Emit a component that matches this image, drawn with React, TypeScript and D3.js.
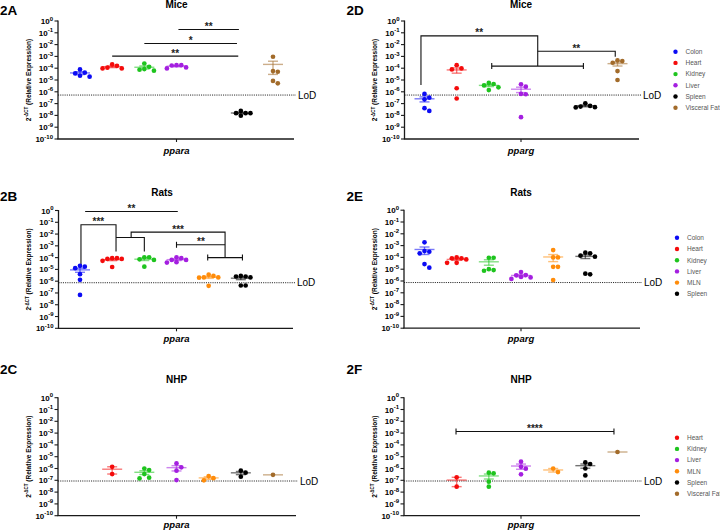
import React from "react";
import * as d3 from "d3";

const TISSUES = ["Colon", "Heart", "Kidney", "Liver", "MLN", "Spleen", "Visceral Fat"];
const TISSUE_COLORS = ["#0b0bf4", "#f40b0b", "#1ec41e", "#a41fe0", "#ff8c0a", "#000000", "#a26b2a"];
const Y_EXPONENTS = [0, -1, -2, -3, -4, -5, -6, -7, -8, -9, -10];

type Series = { tissue: string; values: number[] };
type Bracket = { path: [number, number][]; caps?: number[]; text?: string; tx?: number; ty?: number };

// 2A  Mice, ppara
const miceAlpha: Series[] = [
  { tissue: "Colon", values: [7.9e-5, 4.2e-5, 3.6e-5, 2.3e-5, 1.9e-5] },
  { tissue: "Heart", values: [2.1e-4, 1.6e-4, 1.1e-4, 9.6e-5, 9.6e-5] },
  { tissue: "Kidney", values: [2.5e-4, 1.3e-4, 8.5e-5, 7.4e-5, 6.2e-5] },
  { tissue: "Liver", values: [1.8e-4, 1.8e-4, 1.7e-4, 1.17e-4, 9.6e-5] },
  { tissue: "Spleen", values: [2.4e-8, 1.55e-8, 1.55e-8, 1.55e-8, 9.3e-9] },
  { tissue: "Visceral Fat", values: [9.3e-4, 5.7e-5, 5e-5, 8.3e-6, 5.2e-6] },
];
const miceAlphaBrackets: Bracket[] = [
  { path: [[3.06, 0.19], [4.94, 0.19]], text: "**", tx: 4.0, ty: 0.19 },
  { path: [[2.0, 0.0123], [4.88, 0.0123]], text: "*", tx: 3.44, ty: 0.0123 },
  { path: [[1.0, 1.05e-3], [4.92, 1.05e-3]], text: "**", tx: 2.96, ty: 1.05e-3 },
];

// 2D  Mice, pparg
const miceGamma: Series[] = [
  { tissue: "Colon", values: [6.6e-7, 3.2e-7, 2.3e-7, 4.1e-8, 2.4e-8] },
  { tissue: "Heart", values: [1.8e-4, 9.6e-5, 7.9e-5, 2e-6, 2.7e-7] },
  { tissue: "Kidney", values: [5.6e-6, 4.6e-6, 3.5e-6, 2.4e-6, 1.4e-6] },
  { tissue: "Liver", values: [4.3e-6, 2.7e-6, 6.6e-7, 6.2e-7, 7.1e-9] },
  { tissue: "Spleen", values: [1.07e-7, 6.4e-8, 5.6e-8, 5e-8, 4.7e-8] },
  { tissue: "Visceral Fat", values: [4.6e-4, 4e-4, 2.9e-4, 5.7e-5, 1e-5] },
];
const miceGammaBrackets: Bracket[] = [
  { path: [[-0.11, 3.8e-6], [-0.11, 0.055], [3.52, 0.055], [3.52, 1.5e-4]], text: "**", tx: 1.7, ty: 0.055 },
  { path: [[2.09, 1.5e-4], [4.94, 1.5e-4]], caps: [0, 1] },
  { path: [[3.52, 2.75e-3], [5.93, 2.75e-3], [5.93, 9.3e-4]], text: "**", tx: 4.72, ty: 2.75e-3 },
];

// 2B  Rats, ppara
const ratsAlpha: Series[] = [
  { tissue: "Colon", values: [2e-5, 1.7e-5, 1.26e-5, 3.9e-6, 1.3e-6, 6.8e-8] },
  { tissue: "Heart", values: [8.9e-5, 8.9e-5, 7.8e-5, 7.8e-5, 5.3e-5, 1.6e-5] },
  { tissue: "Kidney", values: [1.07e-4, 1.07e-4, 7.2e-5, 6.4e-5, 1.7e-5] },
  { tissue: "Liver", values: [1.07e-4, 8.9e-5, 6.4e-5, 6.4e-5, 4.1e-5, 3.8e-5] },
  { tissue: "MLN", values: [3.6e-6, 2.8e-6, 2.1e-6, 2.1e-6, 2e-6, 4e-7] },
  { tissue: "Spleen", values: [2.8e-6, 2.5e-6, 2.5e-6, 2.1e-6, 4.3e-7, 4.3e-7] },
];
const ratsAlphaBrackets: Bracket[] = [
  { path: [[0.16, 0.83], [3.04, 0.83]], text: "**", tx: 1.6, ty: 0.83 },
  { path: [[0.03, 1.8e-5], [0.03, 0.062], [1.12, 0.062], [1.12, 3.3e-4]], text: "***", tx: 0.57, ty: 0.062 },
  { path: [[1.12, 5.1e-3], [2.0, 5.1e-3], [2.0, 3.3e-4]] },
  { path: [[1.59, 5.1e-3], [1.59, 0.0145], [4.51, 0.0145], [4.51, 1.0e-4]], text: "***", tx: 3.05, ty: 0.0145 },
  { path: [[3.0, 1.23e-3], [4.51, 1.23e-3]], caps: [0], text: "**", tx: 3.76, ty: 1.23e-3 },
  { path: [[3.97, 1.0e-4], [5.05, 1.0e-4]], caps: [0, 1] },
];

// 2E  Rats, pparg
const ratsGamma: Series[] = [
  { tissue: "Colon", values: [1.9e-3, 3.5e-4, 3e-4, 2.2e-4, 2.7e-5, 1.35e-5] },
  { tissue: "Heart", values: [1e-4, 8.3e-5, 8.3e-5, 6.8e-5, 3.5e-5, 3.5e-5] },
  { tissue: "Kidney", values: [9.3e-5, 9.3e-5, 1e-5, 8.5e-6, 7.4e-6] },
  { tissue: "Liver", values: [5.8e-6, 3.2e-6, 3e-6, 2.2e-6, 2e-6, 1.5e-6] },
  { tissue: "MLN", values: [4.2e-4, 1e-4, 1e-4, 1.6e-5, 1.6e-5, 1.2e-6] },
  { tissue: "Spleen", values: [2.5e-4, 2.2e-4, 1.4e-4, 1.15e-4, 4.2e-6, 3.7e-6] },
];

// 2C  NHP, ppara
const nhpAlpha: Series[] = [
  { tissue: "Heart", values: [1.4e-6, 3.4e-7] },
  { tissue: "Kidney", values: [1e-6, 7.4e-7, 3.4e-7, 1.66e-7, 1.45e-7] },
  { tissue: "Liver", values: [2.7e-6, 1.26e-6, 6.5e-7, 1.05e-7] },
  { tissue: "MLN", values: [2.3e-7, 1.5e-7, 1e-7] },
  { tissue: "Spleen", values: [6.5e-7, 4.4e-7, 2e-7] },
  { tissue: "Visceral Fat", values: [2.9e-7] },
];

// 2F  NHP, pparg
const nhpGamma: Series[] = [
  { tissue: "Heart", values: [1.8e-7, 2.9e-8] },
  { tissue: "Kidney", values: [4.4e-7, 3.9e-7, 7.6e-8, 2.9e-8] },
  { tissue: "Liver", values: [3.8e-6, 1.4e-6, 9.6e-7, 3.2e-7] },
  { tissue: "MLN", values: [1e-6, 5e-7] },
  { tissue: "Spleen", values: [3.3e-6, 2.4e-6, 1e-6, 2.6e-7] },
  { tissue: "Visceral Fat", values: [2.5e-5] },
];
const nhpGammaBrackets: Bracket[] = [
  { path: [[0.98, 1.35e-3], [5.89, 1.35e-3]], caps: [0, 1], text: "****", tx: 3.43, ty: 1.35e-3 },
];

const LOD_MICE = 5.3e-7;
const LOD_RATS = 7.4e-7;
const LOD_NHP = 8.7e-8;

const LEGEND_MICE = ["Colon", "Heart", "Kidney", "Liver", "Spleen", "Visceral Fat"];
const LEGEND_RATS = ["Colon", "Heart", "Kidney", "Liver", "MLN", "Spleen"];
const LEGEND_NHP = ["Heart", "Kidney", "Liver", "MLN", "Spleen", "Visceral Fat"];

const FONT = "'Liberation Sans', Arial, Helvetica, sans-serif";

type PanelCfg = {
  label: string; labelX: number; labelY: number;
  title: string; titleX?: number; titleY: number;
  gene: string; geneY: number;
  x0: number; xEnd: number; first: number; last: number;
  yTop: number; yBottom: number;
  series: Series[]; brackets: Bracket[]; lod: number;
  legend?: string[]; legendX?: number; legendY?: number;
};

const colorOf = (t: string) => TISSUE_COLORS[TISSUES.indexOf(t)];

function swarm(values: number[], cx: number, y: (v: number) => number, d = 4.8) {
  const pts = values.map((v) => ({ v, py: y(v) })).sort((a, b) => a.py - b.py);
  const placed: { v: number; py: number; px: number }[] = [];
  for (const p of pts) {
    for (let k = 0; k < 30; k++) {
      const off = k === 0 ? 0 : (k % 2 === 1 ? 1 : -1) * Math.ceil(k / 2) * d;
      if (placed.every((q) => Math.hypot(q.px - (cx + off), q.py - p.py) >= d - 0.01)) {
        placed.push({ ...p, px: cx + off });
        break;
      }
    }
  }
  return placed;
}

function Panel({ c }: { c: PanelCfg }) {
  const x = d3.scalePoint<string>().domain(TISSUES).range([c.first, c.last]);
  const slot = d3.scaleLinear().domain([0, TISSUES.length - 1]).range([c.first, c.last]);
  const y = d3.scaleLog().domain([1e-10, 1]).range([c.yBottom, c.yTop]);
  const tickX = x("Liver")!;
  const line = d3.line<[number, number]>().x((d) => slot(d[0])).y((d) => y(d[1]));
  const axisColor = "#1a1a1a";
  const midY = (c.yTop + c.yBottom) / 2;
  return (
    <g fontFamily={FONT}>
      <text x={c.labelX} y={c.labelY} fontSize={13.5} fontWeight="bold">{c.label}</text>
      <text x={c.titleX ?? tickX} y={c.titleY} fontSize={10} fontWeight="bold" textAnchor="middle">{c.title}</text>
      {/* y axis */}
      <line x1={c.x0} x2={c.x0} y1={c.yTop - 0.5} y2={c.yBottom} stroke={axisColor} strokeWidth={1.3} />
      {Y_EXPONENTS.map((e) => (
        <g key={e}>
          <line x1={c.x0 - 3.5} x2={c.x0} y1={y(10 ** e)} y2={y(10 ** e)} stroke={axisColor} strokeWidth={1.1} />
          <text x={c.x0 - 5} y={y(10 ** e) + 3} fontSize={8} fontWeight="bold" textAnchor="end">
            10<tspan dy={-3.5} fontSize={6}>{e}</tspan>
          </text>
        </g>
      ))}
      <text transform={`translate(${c.x0 - 27.5},${midY}) rotate(-90)`} fontSize={6.5} fontWeight="bold" textAnchor="middle">
        2<tspan dy={-2.5} fontSize={4.5}>-ΔCT</tspan><tspan dy={2.5}> (Relative Expression)</tspan>
      </text>
      {/* x axis */}
      <line x1={c.x0 - 0.6} x2={c.xEnd} y1={c.yBottom} y2={c.yBottom} stroke={axisColor} strokeWidth={1.3} />
      <line x1={tickX} x2={tickX} y1={c.yBottom} y2={c.yBottom + 3} stroke={axisColor} strokeWidth={1.1} />
      <text x={tickX} y={c.geneY} fontSize={9.5} fontWeight="bold" fontStyle="italic" textAnchor="middle">{c.gene}</text>
      {/* LoD */}
      <line x1={c.x0} x2={c.xEnd + 2} y1={y(c.lod)} y2={y(c.lod)} stroke="#111" strokeWidth={0.9} strokeDasharray="1.1,1.1" />
      <text x={c.xEnd + 4} y={y(c.lod) + 3.6} fontSize={10}>LoD</text>
      {/* brackets */}
      {c.brackets.map((b, i) => (
        <g key={i}>
          <path d={line(b.path) || ""} fill="none" stroke="#111" strokeWidth={1.1} />
          {(b.caps || []).map((ci) => (
            <line key={ci} x1={slot(b.path[ci][0])} x2={slot(b.path[ci][0])} y1={y(b.path[ci][1]) - 3} y2={y(b.path[ci][1]) + 3} stroke="#111" strokeWidth={1.1} />
          ))}
          {b.text && (
            <text x={slot(b.tx!)} y={y(b.ty!) + 0.5} fontSize={10} fontWeight="bold" textAnchor="middle" fill="#222">{b.text}</text>
          )}
        </g>
      ))}
      {/* series */}
      {c.series.map((s) => {
        const cx = x(s.tissue)!;
        const col = colorOf(s.tissue);
        const mean = d3.mean(s.values)!;
        const n = s.values.length;
        const sem = n > 1 ? d3.deviation(s.values)! / Math.sqrt(n) : 0;
        const lo = Math.max(mean - sem, 1e-10);
        const hi = mean + sem;
        const pts = swarm(s.values, cx, y);
        return (
          <g key={s.tissue}>
            <g stroke={col} strokeOpacity={0.55} strokeWidth={1.4}>
              <line x1={cx - 10} x2={cx + 10} y1={y(mean)} y2={y(mean)} />
              {n > 1 && (
                <>
                  <line x1={cx} x2={cx} y1={y(hi)} y2={y(lo)} />
                  <line x1={cx - 5} x2={cx + 5} y1={y(hi)} y2={y(hi)} />
                  <line x1={cx - 5} x2={cx + 5} y1={y(lo)} y2={y(lo)} />
                </>
              )}
            </g>
            {pts.map((p, i) => (
              <circle key={i} cx={p.px} cy={p.py} r={2.35} fill={col} />
            ))}
          </g>
        );
      })}
      {/* legend */}
      {c.legend && c.legend.map((t, i) => (
        <g key={t}>
          <circle cx={c.legendX!} cy={c.legendY! + i * 11.2} r={2.2} fill={colorOf(t)} />
          <text x={c.legendX! + 10} y={c.legendY! + i * 11.2 + 2.3} fontSize={6.5} fill="#555">{t}</text>
        </g>
      ))}
    </g>
  );
}

const PANELS: PanelCfg[] = [
  { label: "2A", labelX: 0, labelY: 15, title: "Mice", titleY: 7.5, gene: "ppara", geneY: 154,
    x0: 58, xEnd: 294, first: 80, last: 273, yTop: 21, yBottom: 139,
    series: miceAlpha, brackets: miceAlphaBrackets, lod: LOD_MICE },
  { label: "2D", labelX: 346.5, labelY: 15, title: "Mice", titleY: 7.5, gene: "pparg", geneY: 154,
    x0: 404.5, xEnd: 639, first: 424.5, last: 617.5, yTop: 21, yBottom: 139,
    series: miceGamma, brackets: miceGammaBrackets, lod: LOD_MICE,
    legend: LEGEND_MICE, legendX: 675.5, legendY: 51.7 },
  { label: "2B", labelX: 0, labelY: 200.5, title: "Rats", titleX: 162, titleY: 196, gene: "ppara", geneY: 342,
    x0: 58.5, xEnd: 293, first: 80, last: 273, yTop: 210.5, yBottom: 328.3,
    series: ratsAlpha, brackets: ratsAlphaBrackets, lod: LOD_RATS },
  { label: "2E", labelX: 346.5, labelY: 200.5, title: "Rats", titleY: 196, gene: "pparg", geneY: 342,
    x0: 404, xEnd: 640, first: 424.5, last: 617.5, yTop: 210.2, yBottom: 328.2,
    series: ratsGamma, brackets: [], lod: LOD_RATS,
    legend: LEGEND_RATS, legendX: 677, legendY: 237.8 },
  { label: "2C", labelX: 0, labelY: 373.5, title: "NHP", titleY: 382.5, gene: "ppara", geneY: 528,
    x0: 58, xEnd: 296, first: 80, last: 273, yTop: 397.7, yBottom: 515.7,
    series: nhpAlpha, brackets: [], lod: LOD_NHP },
  { label: "2F", labelX: 346.5, labelY: 373.5, title: "NHP", titleY: 382.5, gene: "pparg", geneY: 528,
    x0: 404, xEnd: 640, first: 424.5, last: 617.5, yTop: 397.7, yBottom: 515.7,
    series: nhpGamma, brackets: nhpGammaBrackets, lod: LOD_NHP,
    legend: LEGEND_NHP, legendX: 677, legendY: 437.7 },
];

export default function App() {
  return (
    <svg width={720} height={532} viewBox="0 0 720 532" style={{ position: "absolute", left: 0, top: 0, background: "#fff" }}>
      <rect width={720} height={532} fill="#fff" />
      {PANELS.map((p) => (
        <Panel key={p.label} c={p} />
      ))}
    </svg>
  );
}
